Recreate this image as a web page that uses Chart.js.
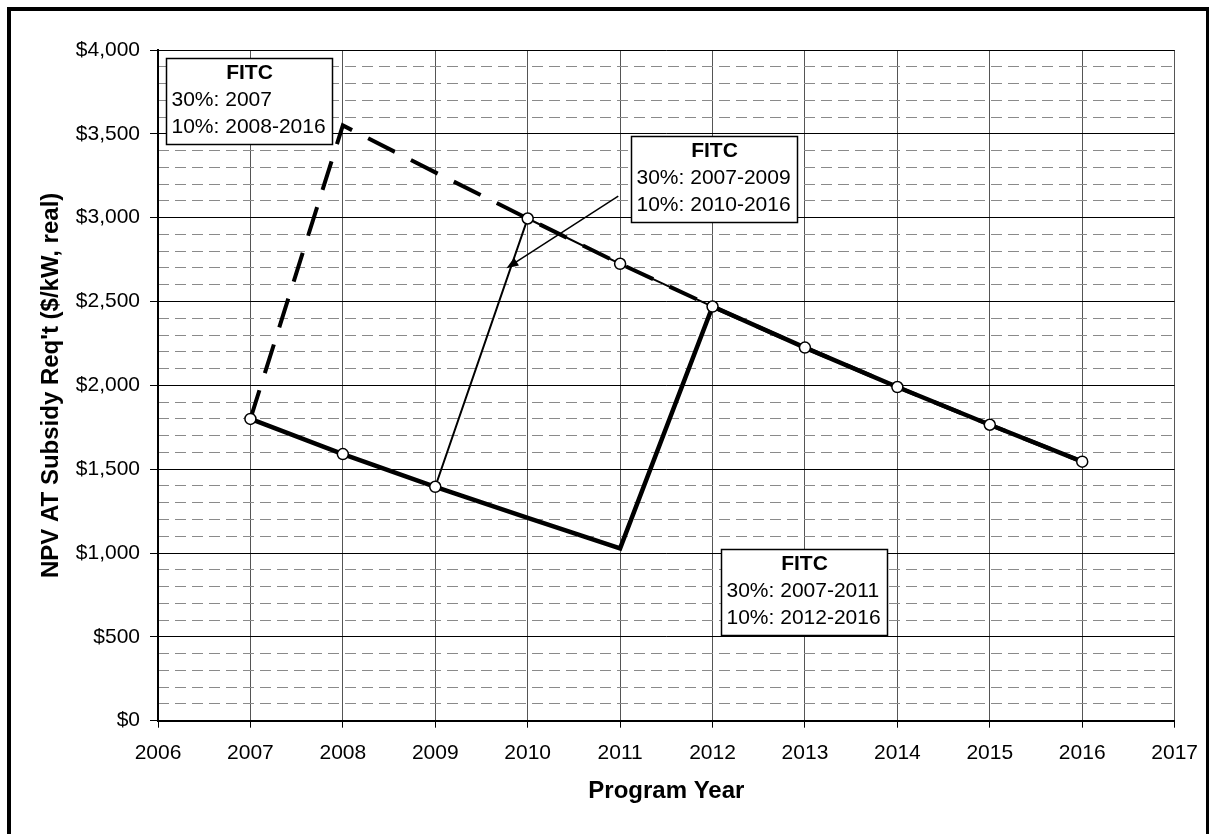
<!DOCTYPE html>
<html>
<head>
<meta charset="utf-8">
<script src="https://cdn.jsdelivr.net/npm/chart.js@4/dist/chart.umd.min.js"></script>
<style>
  body { margin: 0; background: #fff; }
  #frame { position: absolute; left: 7px; top: 7px; width: 1202px; height: 900px;
           border: 4px solid #000; border-right-width: 3px; box-sizing: border-box; }
  #chart { position: absolute; left: 0; top: 0; }
</style>
</head>
<body>
<div id="frame"></div>
<canvas id="chart" width="1211" height="834"></canvas>
<script>
// program years and NPV subsidy requirement ($/kW, real) for each FITC case
const years = [2007, 2008, 2009, 2010, 2011, 2012, 2013, 2014, 2015, 2016];
const fitcTo2007 = [1800, 3550, 3270, 2995, 2725, 2470, 2225, 1990, 1765, 1545];
const fitcTo2009 = [1800, 1590, 1395, 2995, 2725, 2470, 2225, 1990, 1765, 1545];
const fitcTo2011 = [1800, 1590, 1395, 1210, 1028, 2470, 2225, 1990, 1765, 1545];

const xRange = [2006, 2017];
const yRange = [0, 4000];
const yMajorStep = 500;
const yMinorStep = 100;

// text boxes: anchor (top-left) in data units, then the text lines
const notes = [
    { x: 2006.086, y: 3952, lines: ['FITC', '30%: 2007', '10%: 2008-2016'] },
    { x: 2011.12, y: 3487, lines: ['FITC', '30%: 2007-2009', '10%: 2010-2016'] },
    { x: 2012.09, y: 1022, lines: ['FITC', '30%: 2007-2011', '10%: 2012-2016'] }
];
const arrow = { from: [2010.98, 3129], to: [2009.77, 2699] };

const FONT = "'Liberation Sans', Arial, sans-serif";

function toPoints(vals) {
    return years.map((yr, i) => ({ x: yr, y: vals[i] }));
}

const notesPlugin = {
    id: 'notes',
    afterDatasetsDraw(chart) {
        const ctx = chart.ctx;
        const xs = chart.scales.x, ys = chart.scales.y;
        ctx.save();

        // arrow from the middle box
        const x1 = xs.getPixelForValue(arrow.from[0]), y1 = ys.getPixelForValue(arrow.from[1]);
        const x2 = xs.getPixelForValue(arrow.to[0]), y2 = ys.getPixelForValue(arrow.to[1]);
        const ang = Math.atan2(y2 - y1, x2 - x1);
        ctx.strokeStyle = '#000';
        ctx.fillStyle = '#000';
        ctx.lineWidth = 1.5;
        ctx.beginPath();
        ctx.moveTo(x1, y1);
        ctx.lineTo(x2 - 8 * Math.cos(ang), y2 - 8 * Math.sin(ang));
        ctx.stroke();
        ctx.beginPath();
        ctx.moveTo(x2, y2);
        ctx.lineTo(x2 - 12 * Math.cos(ang) + 4.5 * Math.sin(ang), y2 - 12 * Math.sin(ang) - 4.5 * Math.cos(ang));
        ctx.lineTo(x2 - 12 * Math.cos(ang) - 4.5 * Math.sin(ang), y2 - 12 * Math.sin(ang) + 4.5 * Math.cos(ang));
        ctx.closePath();
        ctx.fill();

        notes.forEach(n => {
            const left = Math.round(xs.getPixelForValue(n.x)) + 0.5;
            const top = Math.round(ys.getPixelForValue(n.y)) + 0.5;
            const w = 166, h = 86;
            ctx.fillStyle = '#fff';
            ctx.fillRect(left, top, w, h);
            ctx.strokeStyle = '#000';
            ctx.lineWidth = 1.5;
            ctx.strokeRect(left, top, w, h);

            ctx.fillStyle = '#000';
            ctx.textBaseline = 'middle';
            ctx.font = 'bold 21px ' + FONT;
            ctx.textAlign = 'center';
            ctx.fillText(n.lines[0], left + w / 2, top + 15);
            ctx.font = '21px ' + FONT;
            ctx.textAlign = 'left';
            ctx.fillText(n.lines[1], left + 5, top + 42);
            ctx.fillText(n.lines[2], left + 5, top + 69);
        });
        ctx.restore();
    }
};

const ctx = document.getElementById('chart').getContext('2d');
new Chart(ctx, {
    type: 'line',
    data: {
        datasets: [
            {
                data: toPoints(fitcTo2009),
                borderColor: '#000',
                borderWidth: 2,
                pointRadius: 5.5,
                pointBorderWidth: 1.5,
                pointBackgroundColor: '#fff',
                pointBorderColor: '#000',
                tension: 0
            },
            {
                data: toPoints(fitcTo2011),
                borderColor: '#000',
                borderWidth: 4.5,
                pointRadius: 0,
                tension: 0
            },
            {
                data: toPoints(fitcTo2007),
                borderColor: '#000',
                borderWidth: 4,
                borderDash: [30, 18],
                pointRadius: 0,
                tension: 0
            }
        ]
    },
    options: {
        responsive: false,
        animation: false,
        layout: { padding: { left: 0, top: 50, right: 35, bottom: 0 } },
        plugins: { legend: { display: false }, tooltip: { enabled: false } },
        scales: {
            x: {
                type: 'linear',
                min: xRange[0],
                max: xRange[1],
                ticks: {
                    stepSize: 1,
                    color: '#000',
                    font: { family: FONT, size: 21 },
                    padding: 13,
                    maxRotation: 0,
                    callback: v => String(v)
                },
                grid: { color: '#555', lineWidth: 1, tickLength: 7, tickColor: '#000' },
                border: { color: '#000', width: 2 },
                title: {
                    display: true,
                    text: 'Program Year',
                    color: '#000',
                    font: { family: FONT, size: 24, weight: 'bold' },
                    padding: { top: 0, bottom: 28 }
                },
                afterFit: s => { s.height = 113.3; }
            },
            yMinor: {
                type: 'linear',
                position: 'left',
                min: yRange[0],
                max: yRange[1],
                ticks: { display: false, stepSize: yMinorStep },
                grid: {
                    drawTicks: false,
                    lineWidth: 1,
                    color: c => (c.tick && c.tick.value % yMajorStep === 0) ? 'rgba(0,0,0,0)' : '#8a8a8a'
                },
                border: { display: false, dash: [11, 6] },
                afterFit: s => { s.width = 0; }
            },
            y: {
                type: 'linear',
                position: 'left',
                min: yRange[0],
                max: yRange[1],
                ticks: {
                    stepSize: yMajorStep,
                    color: '#000',
                    font: { family: FONT, size: 21 },
                    padding: 10,
                    callback: v => '$' + v.toLocaleString('en-US')
                },
                grid: { color: '#000', lineWidth: 1, tickLength: 8, tickColor: '#000' },
                border: { color: '#000', width: 2 },
                title: {
                    display: true,
                    text: "NPV AT Subsidy Req't ($/kW, real)",
                    color: '#000',
                    font: { family: FONT, size: 24, weight: 'bold' },
                    padding: { top: 37, bottom: 0 }
                },
                afterFit: s => { s.width = 158; }
            }
        }
    },
    plugins: [notesPlugin]
});
</script>
</body>
</html>
